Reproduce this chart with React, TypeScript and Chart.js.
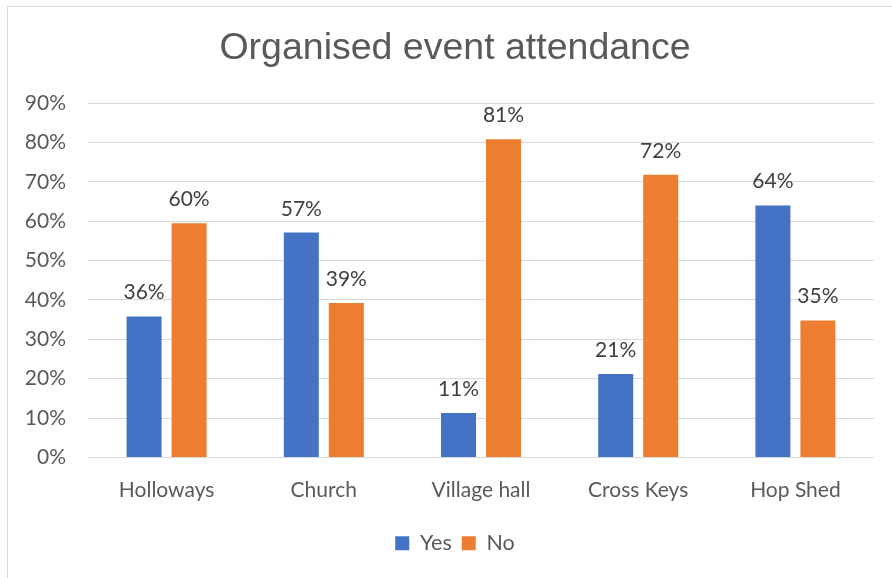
import React, { useEffect, useRef } from "react";
import { Chart, registerables } from "chart.js";

Chart.register(...registerables);

const categories = ["Holloways", "Church", "Village hall", "Cross Keys", "Hop Shed"];
const yesValues = [35.8, 57.1, 11.3, 21.2, 64.0];
const noValues = [59.5, 39.2, 80.8, 71.8, 34.8];
const seriesNames = ["Yes", "No"];
const titleText = "Organised event attendance";

const FONT = "Lato, 'Noto Sans', sans-serif";

const dataLabelPlugin = {
  id: "dataLabels",
  afterDatasetsDraw(chart: any) {
    const ctx = chart.ctx;
    ctx.save();
    ctx.font = `21px ${FONT}`;
    ctx.fillStyle = "#404040";
    ctx.textAlign = "center";
    ctx.textBaseline = "alphabetic";
    chart.data.datasets.forEach((ds: any, i: number) => {
      const meta = chart.getDatasetMeta(i);
      meta.data.forEach((el: any, j: number) => {
        const v = ds.data[j];
        ctx.fillText(Math.round(v) + "%", el.x, el.y - 17);
      });
    });
    ctx.restore();
  },
};

// The original chart frame is wider than the visible crop, so title and legend
// are centred a little to the right of the canvas centre.
const shiftBoxesPlugin = {
  id: "shiftBoxes",
  afterLayout(chart: any) {
    const shift = 36;
    [chart.titleBlock, chart.legend].forEach((b: any) => {
      if (b) {
        b.left = shift;
        b.width = b.right - b.left;
      }
    });
  },
};

export default function App() {
  const ref = useRef<HTMLCanvasElement | null>(null);
  useEffect(() => {
    if (!ref.current) return;
    const chart = new Chart(ref.current, {
      type: "bar",
      data: {
        labels: categories,
        datasets: [
          { label: seriesNames[0], data: yesValues, backgroundColor: "#4472C4", borderWidth: 0 },
          { label: seriesNames[1], data: noValues, backgroundColor: "#ED7D31", borderWidth: 0 },
        ],
      },
      options: {
        animation: false,
        responsive: false,
        maintainAspectRatio: false,
        layout: { padding: { left: 0, right: 18, top: 0, bottom: 14 } },
        datasets: {
          bar: { categoryPercentage: 0.5725, barPercentage: 0.778 },
        },
        plugins: {
          tooltip: { enabled: false },
          title: {
            display: true,
            text: titleText,
            color: "#595959",
            font: { family: "'Liberation Sans', Arial, sans-serif", size: 37.5, weight: "normal", lineHeight: 1.2 },
            padding: { top: 26, bottom: 32 },
          },
          legend: {
            position: "bottom",
            labels: {
              boxWidth: 14,
              boxHeight: 14,
              color: "#595959",
              font: { family: FONT, size: 21.5 },
              padding: 10,
            },
          },
        },
        scales: {
          x: {
            grid: { display: false, drawTicks: false },
            border: { display: false },
            ticks: { color: "#595959", font: { family: FONT, size: 21 }, padding: 20 },
            afterFit(scale: any) {
              scale.height = 65;
            },
          },
          y: {
            min: 0,
            max: 90,
            grid: { color: "#d9d9d9", lineWidth: 1, drawTicks: false },
            border: { display: false },
            ticks: {
              stepSize: 10,
              color: "#595959",
              font: { family: FONT, size: 21 },
              padding: 22,
              callback: (v: any) => v + "%",
            },
            afterFit(scale: any) {
              scale.width = 88;
            },
          },
        },
      },
      plugins: [dataLabelPlugin, shiftBoxesPlugin],
    });
    return () => chart.destroy();
  }, []);

  return (
    <div style={{ position: "fixed", left: 0, top: 0, width: 892, height: 578, background: "#fff" }}>
      <div
        style={{
          position: "absolute",
          left: 7,
          top: 6,
          width: 1000,
          height: 1000,
          border: "1px solid #d9d9d9",
        }}
      />
      <canvas ref={ref} width={892} height={578} style={{ position: "absolute", left: 0, top: 0 }} />
    </div>
  );
}
